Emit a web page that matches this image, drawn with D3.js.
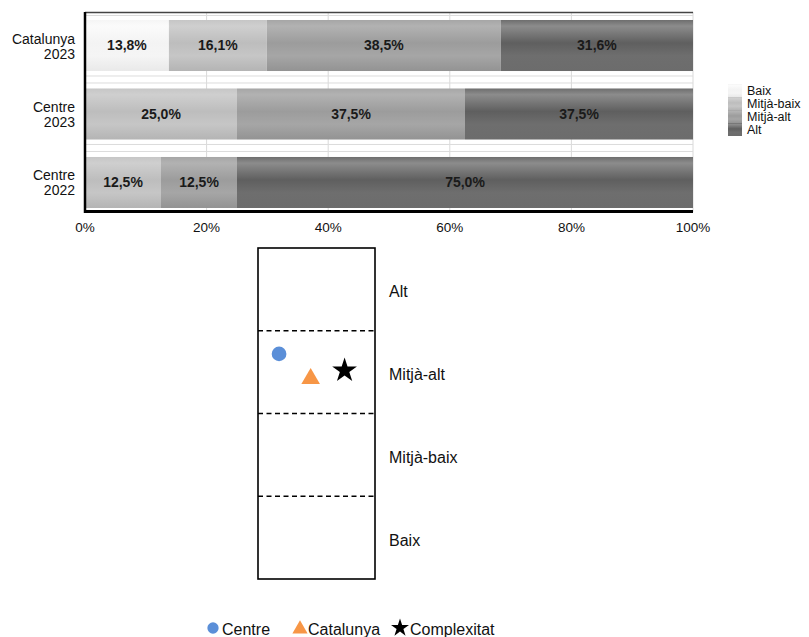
<!DOCTYPE html>
<html><head><meta charset="utf-8">
<script src="https://cdn.jsdelivr.net/npm/d3@7"></script>
<style>body{margin:0;background:#fff}svg{display:block;font-family:"Liberation Sans",Arial,sans-serif}</style>
</head><body>
<script>
// ---- Data ----
const categories = ["Catalunya\n2023", "Centre\n2023", "Centre\n2022"];
const levels = ["Baix", "Mitjà-baix", "Mitjà-alt", "Alt"];
const baix      = [13.8, 0, 0];
const mitjaBaix = [16.1, 25.0, 12.5];
const mitjaAlt  = [38.5, 37.5, 12.5];
const alt       = [31.6, 37.5, 75.0];
const xTicks = [0, 20, 40, 60, 80, 100];

const pointNames = ["Centre", "Catalunya", "Complexitat"];
const pointX = [0.18, 0.45, 0.74];
const pointY = [2.72, 2.42, 2.52];
const bandLabels = ["Baix", "Mitjà-baix", "Mitjà-alt", "Alt"];

const W = 809, H = 637;
const svg = d3.select("body").append("svg").attr("width", W).attr("height", H);
const defs = svg.append("defs");

// gradients for glossy bars
const grads = [
  ["#fbfbfb", "#f5f5f5", "#f3f3f3", "#e9e9e9"],
  ["#cfcfcf", "#c6c6c6", "#bdbdbd", "#b4b4b4"],
  ["#b2b2b2", "#a6a6a6", "#9c9c9c", "#939393"],
  ["#8c8c8c", "#6e6e6e", "#5f5f5f", "#6c6c6c"]
];
grads.forEach((g, i) => {
  const lg = defs.append("linearGradient").attr("id", "g" + i).attr("x1", 0).attr("x2", 0).attr("y1", 0).attr("y2", 1);
  [[0, g[1]], [0.12, g[0]], [0.45, g[2]], [0.7, g[1]], [1, g[3]]].forEach(s =>
    lg.append("stop").attr("offset", s[0]).attr("stop-color", s[1]));
});

// ---- Top stacked bar chart ----
const x = d3.scaleLinear().domain([0, 100]).range([85, 693]);
const y = d3.scaleBand().domain(categories).range([14, 214]).paddingInner(0.255).paddingOuter(0.0875);

const g1 = svg.append("g");
// vertical gridlines
g1.selectAll(".vg").data(xTicks.slice(1)).join("line")
  .attr("x1", d => x(d)).attr("x2", d => x(d)).attr("y1", 12).attr("y2", 212)
  .attr("stroke", "#d9d9d9").attr("stroke-width", 1);
// horizontal light lines between bars
const hl = [];
categories.forEach((c, i) => { if (i > 0) { const yy = y(c); hl.push(yy - 13, yy - 6); } });
hl.push(y(categories[0]) - 5);
g1.selectAll(".hg").data(hl).join("line")
  .attr("x1", 85).attr("x2", 693).attr("y1", d => d + 0.5).attr("y2", d => d + 0.5)
  .attr("stroke", "#dcdcdc");
// top frame
g1.append("line").attr("x1", 85).attr("x2", 693).attr("y1", 12.5).attr("y2", 12.5).attr("stroke", "#444").attr("stroke-width", 1.3);

const series = [baix, mitjaBaix, mitjaAlt, alt];
const rows = categories.map((c, i) => {
  let acc = 0;
  return series.map((s, k) => { const v = s[i]; const r = {cat: c, k, x0: acc, x1: acc + v, v}; acc += v; return r; });
});
const segs = rows.flat().filter(d => d.v > 0);
g1.selectAll(".bar").data(segs).join("rect")
  .attr("x", d => x(d.x0)).attr("width", d => x(d.x1) - x(d.x0))
  .attr("y", d => y(d.cat)).attr("height", y.bandwidth())
  .attr("fill", d => `url(#g${d.k})`);
g1.selectAll(".bl").data(segs).join("text")
  .attr("x", d => (x(d.x0) + x(d.x1)) / 2).attr("y", d => y(d.cat) + y.bandwidth() / 2)
  .attr("dy", "0.35em").attr("text-anchor", "middle")
  .attr("font-size", 14).attr("font-weight", "bold").attr("fill", "#1a1a1a")
  .text(d => d.v.toFixed(1).replace(".", ",") + "%");

// axes
g1.append("line").attr("x1", 85).attr("x2", 85).attr("y1", 12).attr("y2", 213).attr("stroke", "#000").attr("stroke-width", 2.5);
g1.append("line").attr("x1", 84).attr("x2", 693).attr("y1", 211.5).attr("y2", 211.5).attr("stroke", "#000").attr("stroke-width", 3);
g1.selectAll(".xt").data(xTicks).join("text")
  .attr("x", d => x(d)).attr("y", 232).attr("text-anchor", "middle")
  .attr("font-size", 13.5).attr("fill", "#111").text(d => d + "%");
categories.forEach(c => {
  const parts = c.split("\n");
  const t = g1.append("text").attr("text-anchor", "end").attr("font-size", 14).attr("fill", "#111");
  parts.forEach((p, j) => t.append("tspan").attr("x", 75)
    .attr("y", y(c) + y.bandwidth() / 2 + (j === 0 ? -2 : 13)).text(p));
});

// legend top
const lg = svg.append("g");
levels.forEach((l, i) => {
  const yy = 84 + i * 13;
  lg.append("rect").attr("x", 728).attr("y", yy).attr("width", 14).attr("height", 13).attr("fill", `url(#g${i})`);
  lg.append("text").attr("x", 747).attr("y", yy + 6.5).attr("dy", "0.35em").attr("font-size", 12.5).attr("fill", "#111").text(l);
});

// ---- Bottom level chart ----
const bx = d3.scaleLinear().domain([0, 1]).range([258, 375]);
const by = d3.scaleLinear().domain([0, 4]).range([579, 248]);
const g2 = svg.append("g");
g2.append("rect").attr("x", bx(0)).attr("y", by(4)).attr("width", bx(1) - bx(0)).attr("height", by(0) - by(4))
  .attr("fill", "none").attr("stroke", "#000").attr("stroke-width", 1.6);
g2.selectAll(".dl").data([1, 2, 3]).join("line")
  .attr("x1", bx(0)).attr("x2", bx(1)).attr("y1", d => by(d)).attr("y2", d => by(d))
  .attr("stroke", "#000").attr("stroke-width", 1.6).attr("stroke-dasharray", "5,3.5");
g2.selectAll(".bl2").data(bandLabels).join("text")
  .attr("x", 389).attr("y", (d, i) => by(i + 0.5) + 2.5).attr("dy", "0.35em")
  .attr("font-size", 16).attr("fill", "#111").text(d => d);

const colors = ["#5b8fd8", "#f79646", "#000000"];
const symbols = [d3.symbolCircle, d3.symbolTriangle, d3.symbolStar];
const sizes = [170, 150, 190];
g2.selectAll(".pt").data(pointNames).join("path")
  .attr("transform", (d, i) => `translate(${bx(pointX[i])},${by(pointY[i])})`)
  .attr("d", (d, i) => d3.symbol(symbols[i], sizes[i])())
  .attr("fill", (d, i) => colors[i]);

// bottom legend
const lx = [213, 300, 400];
const ltx = [222, 308, 410];
const lsz = [100, 100, 100];
pointNames.forEach((n, i) => {
  svg.append("path").attr("transform", `translate(${lx[i]},${628 + (i === 1 ? 1 : 0)})`)
    .attr("d", d3.symbol(symbols[i], lsz[i])()).attr("fill", colors[i]);
  svg.append("text").attr("x", ltx[i]).attr("y", 629).attr("dy", "0.35em")
    .attr("font-size", 16).attr("fill", "#111").text(n);
});
</script>
</body></html>
